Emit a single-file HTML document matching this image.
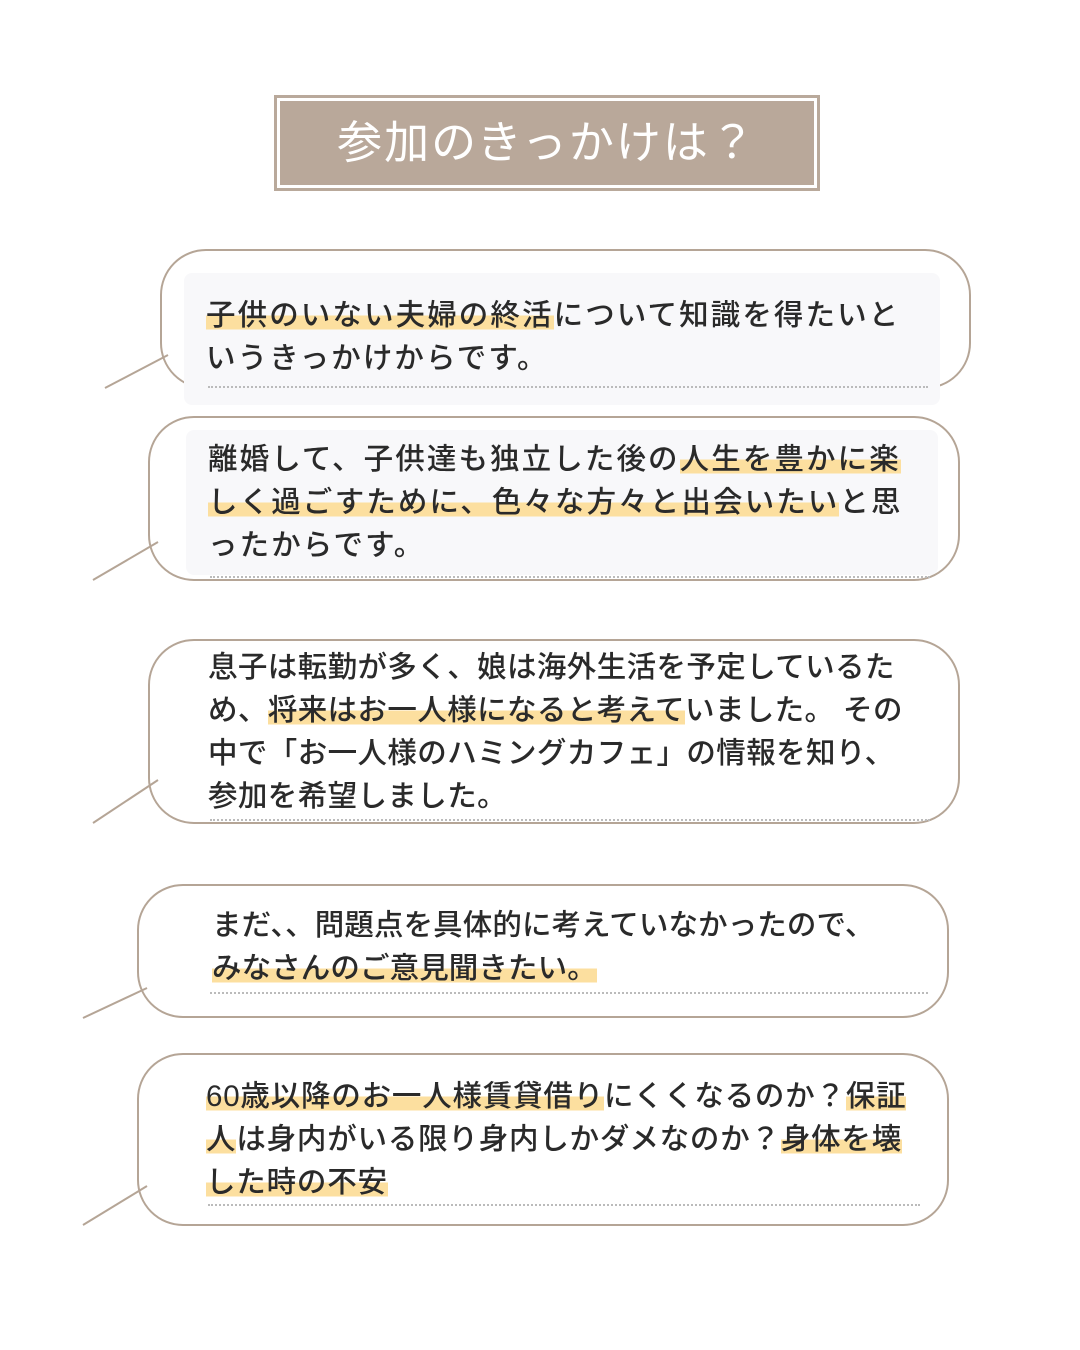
<!DOCTYPE html>
<html><head><meta charset="utf-8"><style>
body{margin:0;width:1080px;height:1350px;background:#fff;position:relative;overflow:hidden;font-family:"Liberation Sans","Noto Sans CJK JP",sans-serif;}
.b{position:absolute;border:2px solid #b5a596;border-radius:46px;box-sizing:border-box;background:#fff;}
.t{position:absolute;color:#2a2a2a;font-size:29.5px;letter-spacing:2.1px;line-height:43px;white-space:nowrap;font-weight:500;}
.h{background:linear-gradient(transparent 50%,#fcdf9f 50%,#fcdf9f 92%,transparent 92%);}
.d{position:absolute;border-top:2px dotted #bbb;height:0;}
.g{position:absolute;background:#f8f8fa;border-radius:8px;}
</style></head><body>
<div style="position:absolute;left:274px;top:95px;width:546px;height:96px;box-sizing:border-box;border:3px solid #b9a99b;background:#fff;padding:3px;">
<div style="width:100%;height:100%;background:#b9a89a;color:#fff;font-size:45px;text-align:center;line-height:84px;letter-spacing:2px;">参加のきっかけは？</div></div>

<div class="b" style="left:160px;top:249px;width:811px;height:140px;"></div>
<div class="g" style="left:184px;top:273px;width:756px;height:132px;"></div>
<div class="d" style="left:208px;top:386px;width:720px;"></div>
<div class="t" style="left:206px;top:294px;"><span class="h">子供のいない夫婦の終活</span>について知識を得たいと<br>いうきっかけからです。</div>

<div class="b" style="left:148px;top:416px;width:812px;height:165px;"></div>
<div class="g" style="left:186px;top:430px;width:752px;height:145px;"></div>
<div class="d" style="left:210px;top:576px;width:720px;"></div>
<div class="t" style="left:208px;top:438px;">離婚して、子供達も独立した後の<span class="h">人生を豊かに楽</span><br><span class="h">しく過ごすために、色々な方々と出会いたい</span>と思<br>ったからです。</div>

<div class="b" style="left:148px;top:639px;width:812px;height:185px;"></div>
<div class="d" style="left:210px;top:819px;width:720px;"></div>
<div class="t" style="left:208px;top:646px;letter-spacing:0.4px;">息子は転勤が多く、娘は海外生活を予定しているた<br>め、<span class="h">将来はお一人様になると考えて</span>いました。 その<br>中で「お一人様のハミングカフェ」の情報を知り、<br>参加を希望しました。</div>

<div class="b" style="left:137px;top:884px;width:812px;height:134px;"></div>
<div class="d" style="left:210px;top:992px;width:718px;"></div>
<div class="t" style="left:212px;top:904px;letter-spacing:0.1px;">まだ、、問題点を具体的に考えていなかったので、<br><span class="h">みなさんのご意見聞きたい。</span></div>

<div class="b" style="left:137px;top:1053px;width:812px;height:173px;"></div>
<div class="d" style="left:208px;top:1204px;width:712px;"></div>
<div class="t" style="left:206px;top:1075px;letter-spacing:0.8px;"><span class="h">60歳以降のお一人様賃貸借り</span>にくくなるのか？<span class="h">保証</span><br><span class="h">人</span>は身内がいる限り身内しかダメなのか？<span class="h">身体を壊</span><br><span class="h">した時の不安</span></div>

<svg width="1080" height="1350" style="position:absolute;left:0;top:0">
<g stroke="#b5a596" stroke-width="2">
<line x1="105" y1="388" x2="168" y2="355"/>
<line x1="93" y1="580" x2="158" y2="542"/>
<line x1="93" y1="823" x2="158" y2="780"/>
<line x1="83" y1="1018" x2="147" y2="988"/>
<line x1="83" y1="1225" x2="147" y2="1186"/>
</g></svg>
</body></html>
